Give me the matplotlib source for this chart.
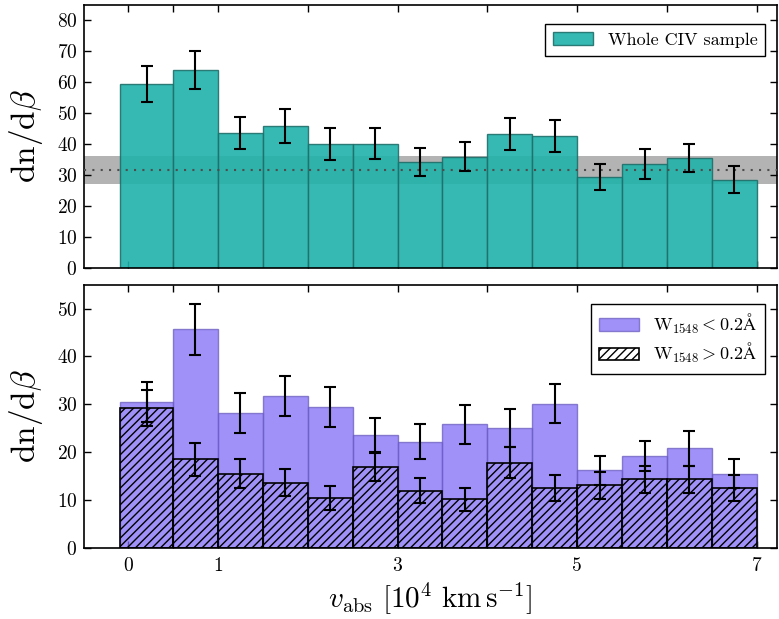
import numpy as np
import matplotlib
matplotlib.use("Agg")
import matplotlib.pyplot as plt

plt.rcParams['font.family'] = 'serif'
plt.rcParams['font.serif'] = ['cmr10', 'DejaVu Serif']
plt.rcParams['mathtext.fontset'] = 'cm'
plt.rcParams['axes.formatter.use_mathtext'] = True
plt.rcParams['hatch.linewidth'] = 1.0

# bin edges in units of 1e4 km/s
bin_edges = [-0.09, 0.5, 1.0, 1.5, 2.0, 2.5, 3.0, 3.5, 4.0, 4.5, 5.0, 5.5, 6.0, 6.5, 7.0]

# whole CIV sample
whole = [59.5, 64.1, 43.7, 45.9, 40.1, 40.2, 34.2, 36.0, 43.4, 42.6, 29.4, 33.6, 35.6, 28.5]
whole_err = [5.7, 6.1, 5.1, 5.4, 5.1, 5.1, 4.6, 4.6, 5.2, 5.2, 4.1, 4.7, 4.6, 4.4]
mean_level = 31.6
mean_lo, mean_hi = 27.0, 36.2

# split by equivalent width
weak = [30.5, 45.7, 28.2, 31.8, 29.5, 23.6, 22.2, 25.8, 25.1, 30.1, 16.2, 19.2, 20.8, 15.5]
weak_err = [4.1, 5.3, 4.2, 4.2, 4.2, 3.6, 3.6, 4.0, 4.0, 4.1, 3.0, 3.2, 3.6, 3.0]
strong = [29.2, 18.5, 15.5, 13.6, 10.5, 16.9, 11.9, 10.2, 17.8, 12.5, 13.1, 14.3, 14.3, 12.5]
strong_err = [3.8, 3.4, 3.0, 2.8, 2.5, 2.9, 2.6, 2.4, 3.3, 2.8, 2.8, 2.9, 2.9, 2.8]

xtick_pos = [0, 0.5, 1, 2, 3, 4, 5, 6, 7]
xtick_lab = ['0', '', '1', '', '3', '', '5', '', '7']

edges = np.array(bin_edges)
left = edges[:-1]
widths = np.diff(edges)
centers = left + widths / 2

fig = plt.figure(figsize=(7.79, 6.19), dpi=100)
ax1 = fig.add_axes([0.108, 0.567, 0.890, 0.425])
ax2 = fig.add_axes([0.108, 0.115, 0.890, 0.425])

ebkw = dict(fmt='none', ecolor='black', elinewidth=1.5, capsize=4.5, capthick=1.5, zorder=5)
legkw = dict(loc='upper right', bbox_to_anchor=(1 - 12 / 693, 1 - 19 / 263), borderaxespad=0,
             fontsize=13, fancybox=False, framealpha=1, edgecolor='black',
             handlelength=2.2, handletextpad=0.8, labelspacing=0.3, borderpad=0.45)

# top panel
ax1.axhspan(mean_lo, mean_hi, color='0.7', zorder=1, lw=0)
ax1.axhline(mean_level, color='0.3', ls=(0, (1, 3)), lw=1.5, zorder=4)
ax1.bar(left, whole, width=widths, align='edge', color='lightseagreen', alpha=0.9,
        edgecolor='#1f6f6a', linewidth=1, zorder=2, label='Whole CIV sample')
ax1.errorbar(centers, whole, yerr=whole_err, **ebkw)
ax1.set_ylim(0, 85)
ax1.set_yticks(range(0, 81, 10))
ax1.set_ylabel(r'$\mathrm{dn}/\mathrm{d}\beta$', fontsize=24, labelpad=8)
ax1.legend(**legkw)

# bottom panel
ax2.bar(left, weak, width=widths, align='edge', color='#7f6cf5', alpha=0.75,
        edgecolor='#6a5cc0', linewidth=1, zorder=2, label=r'$\mathrm{W}_{1548} < 0.2\mathrm{\AA}$')
ax2.bar(left, strong, width=widths, align='edge', color='none', hatch='////',
        edgecolor='black', linewidth=1.2, zorder=3, label=r'$\mathrm{W}_{1548} > 0.2\mathrm{\AA}$')
ax2.errorbar(centers, weak, yerr=weak_err, **ebkw)
ax2.errorbar(centers, strong, yerr=strong_err, **ebkw)
ax2.set_ylim(0, 55)
ax2.set_yticks(range(0, 51, 10))
ax2.set_ylabel(r'$\mathrm{dn}/\mathrm{d}\beta$', fontsize=24, labelpad=8)
ax2.set_xlabel(r'$v_{\rm abs}\ [10^4\ {\rm km\,s^{-1}}]$', fontsize=21, labelpad=4)
ax2.legend(**legkw)

for ax in (ax1, ax2):
    ax.set_xlim(-0.49, 7.23)
    ax.set_xticks(xtick_pos)
    ax.tick_params(direction='in', top=True, right=True, length=5, width=1, labelsize=14)
    ax.tick_params(axis='y', pad=5)
    ax.tick_params(axis='x', pad=7)
    for s in ax.spines.values():
        s.set_linewidth(1.2)
ax1.set_xticklabels([])
ax2.set_xticklabels(xtick_lab)

fig.savefig('out.png', dpi=100)
